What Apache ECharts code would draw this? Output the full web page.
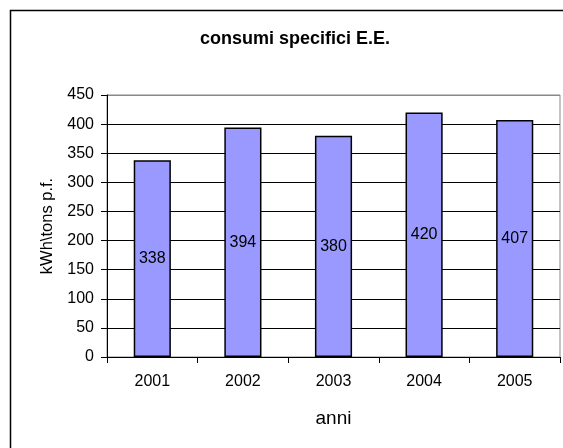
<!DOCTYPE html>
<html>
<head>
<meta charset="utf-8">
<script src="https://cdn.jsdelivr.net/npm/echarts@6/dist/echarts.min.js"></script>
<style>
  html, body { margin: 0; padding: 0; background: #fff; }
  #chart { width: 563px; height: 448px; }
</style>
</head>
<body>
<div id="chart"></div>
<script>
// Specific electricity consumption per year
const years = ['2001', '2002', '2003', '2004', '2005'];
const consumption = [338, 394, 380, 420, 407];
const yTicks = [0, 50, 100, 150, 200, 250, 300, 350, 400, 450];

const font = 'Liberation Sans, Arial, sans-serif';
const chart = echarts.init(document.getElementById('chart'));

chart.setOption({
  animation: false,
  backgroundColor: '#fff',
  title: {
    text: 'consumi specifici E.E.',
    left: 195,
    top: 25,
    textStyle: { fontFamily: font, fontSize: 18, fontWeight: 'bold', color: '#000' }
  },
  graphic: [{
    type: 'rect',
    shape: { x: 10.5, y: 10.5, width: 700, height: 600 },
    style: { fill: 'none', stroke: '#000', lineWidth: 1.5 },
    silent: true
  }],
  grid: {
    left: 107, top: 95, width: 453, height: 262,
    show: true, borderColor: '#888', borderWidth: 1, backgroundColor: '#fff'
  },
  xAxis: {
    type: 'category',
    data: years,
    name: 'anni',
    nameLocation: 'middle',
    nameGap: 52,
    nameTextStyle: { fontFamily: font, fontSize: 19, color: '#000' },
    axisLine: { lineStyle: { color: '#000', width: 1 } },
    axisTick: { show: true, length: 6, lineStyle: { color: '#000' } },
    axisLabel: { fontFamily: font, fontSize: 16, color: '#000', margin: 17 }
  },
  yAxis: {
    type: 'value',
    min: yTicks[0],
    max: yTicks[yTicks.length - 1],
    interval: yTicks[1] - yTicks[0],
    name: 'kWh\\tons p.f.',
    nameLocation: 'middle',
    nameGap: 50,
    nameTextStyle: { fontFamily: font, fontSize: 16.5, color: '#000' },
    axisLine: { show: true, lineStyle: { color: '#000', width: 1 } },
    axisTick: { show: true, length: 6, lineStyle: { color: '#000' } },
    axisLabel: { fontFamily: font, fontSize: 16, color: '#000', margin: 13 },
    splitLine: {
      show: true,
      lineStyle: { color: yTicks.map((t, i) => i === yTicks.length - 1 ? '#888' : '#000'), width: 1 }
    }
  },
  series: [{
    type: 'bar',
    data: consumption,
    barWidth: '41%',
    itemStyle: { color: '#9999FF', borderColor: '#000', borderWidth: 1.5 },
    label: {
      show: true,
      position: 'inside',
      fontFamily: font,
      fontSize: 16,
      color: '#000'
    }
  }]
});
</script>
</body>
</html>
